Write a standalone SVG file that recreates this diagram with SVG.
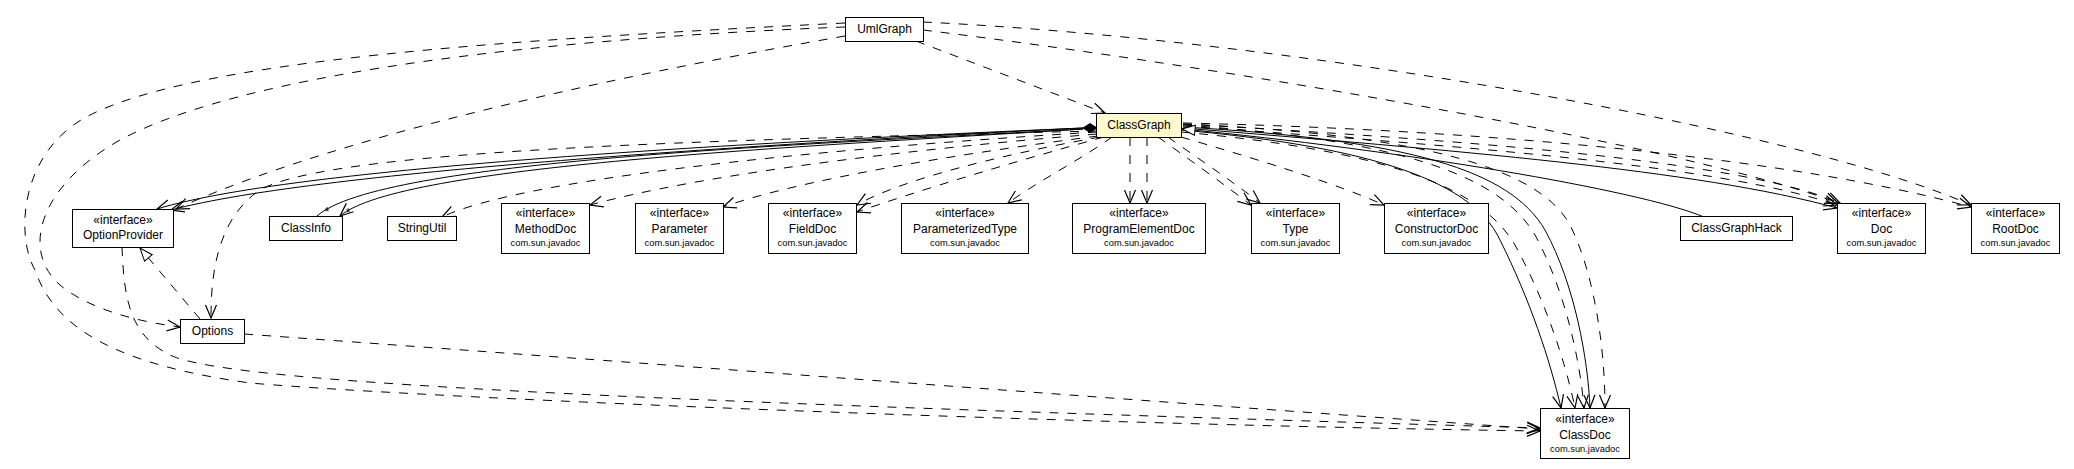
<svg xmlns="http://www.w3.org/2000/svg" width="2074" height="469" viewBox="0 0 2074 469">
<style>
.n rect{fill:#fff;stroke:#000;stroke-width:1}
#ClassGraph rect{fill:#FFFACD}
text{font-family:"Liberation Sans",Arial,Helvetica,sans-serif;font-size:12px;fill:#000;text-anchor:middle}
text.pk{font-size:9.3px}
.e{fill:none;stroke:#000;stroke-width:1}
.d{stroke-dasharray:9,9}
.v{marker-end:url(#vee)}
.g{marker-end:url(#tri)}
</style>
<defs>
<marker id="vee" markerUnits="userSpaceOnUse" markerWidth="16" markerHeight="14" viewBox="-1 -1 16 14" refX="13" refY="5.5" orient="auto" overflow="visible">
<path d="M0,0 L13,5.5 L0,11" fill="none" stroke="#000" stroke-width="1.2" stroke-dasharray="none"/>
</marker>
<marker id="tri" markerUnits="userSpaceOnUse" markerWidth="16" markerHeight="14" viewBox="-1 -1 16 14" refX="13" refY="5" orient="auto" overflow="visible">
<path d="M0,0 L13,5 L0,10 Z" fill="#fff" stroke="#000" stroke-width="1" stroke-dasharray="none"/>
</marker>
</defs>
<rect width="2074" height="469" fill="#fff"/>
<g id="connectors">
<path class="e d v" d="M916,41 L1105,113"/>
<path class="e d v" d="M845,27 C560,38 250,70 120,140 C40,185 20,250 60,285 C90,310 140,322 180,327"/>
<path class="e d v" d="M845,23 C500,40 200,60 90,115 C20,150 15,235 35,270 C55,330 120,365 250,383 C450,400 1100,425 1540,431"/>
<path class="e d v" d="M845,36 C650,70 350,130 176,209"/>
<path class="e d v" d="M923,30 C1250,70 1700,150 1838,203"/>
<path class="e d v" d="M923,22 C1300,40 1800,130 1971,205"/>
<path class="e d v" d="M122,247 C124,300 130,335 170,355 C230,385 700,403 1540,428"/>
<path class="e d v" d="M244,334 C700,367 1100,398 1540,429"/>
<path class="e d g" d="M200,319 L140,248"/>
<path class="e d v" d="M1097,131 C700,140 330,150 260,190 C215,220 211,280 211,318"/>
<path class="e v" d="M1083,128 C800,140 300,165 157,209"/>
<path class="e v" d="M1083,128 C800,142 320,170 171,210"/>
<path class="e" d="M1083,129 C800,145 380,160 317,216"/>
<path class="e v" d="M1083,129 C800,147 400,165 340,216"/>
<path class="e d v" d="M1097,132 C800,150 520,180 442,217"/>
<path class="e d v" d="M1097,134 C900,150 700,175 590,205"/>
<path class="e d v" d="M1098,136 C950,155 800,180 723,207"/>
<path class="e d v" d="M1100,137 C1000,155 900,180 857,205"/>
<path class="e d v" d="M1104,137 C1020,160 920,190 857,212"/>
<path class="e d v" d="M1112,137 C1080,160 1040,180 1008,203"/>
<path class="e d v" d="M1130,137 L1130,203"/>
<path class="e d v" d="M1147,137 L1147,203"/>
<path class="e d v" d="M1158,137 C1190,160 1225,185 1251,205"/>
<path class="e d v" d="M1168,137 C1200,160 1235,183 1260,203"/>
<path class="e d v" d="M1181,137 C1260,160 1340,185 1384,205"/>
<path class="e v" d="M1181,130 C1350,145 1470,175 1500,240 C1530,300 1550,360 1561,408"/>
<path class="e d v" d="M1181,132 C1380,150 1480,185 1515,245 C1545,300 1565,360 1575,408"/>
<path class="e d v" d="M1183,125 C1400,140 1500,175 1535,235 C1565,290 1580,360 1584,408"/>
<path class="e v" d="M1183,127 C1410,140 1510,170 1545,230 C1575,285 1588,360 1590,408"/>
<path class="e d v" d="M1183,124 C1430,135 1540,170 1570,225 C1595,275 1605,350 1605,408"/>
<path class="e v" d="M1183,128 C1450,150 1700,170 1837,208"/>
<path class="e d v" d="M1183,126 C1450,145 1720,165 1837,205"/>
<path class="e d v" d="M1183,124 C1460,140 1740,160 1840,203"/>
<path class="e d v" d="M1183,123 C1500,130 1800,160 1971,207"/>
<path class="e g" d="M1704,217 C1640,190 1400,150 1182,129"/>
<polygon points="1097,128 1090,123.5 1083,128 1090,132.5" fill="#000" stroke="#000"/>
<text x="327" y="216">*</text>
<text x="348" y="217">*</text>
</g>
<g id="UmlGraph" class="n"><rect x="845.5" y="17.5" width="78" height="24"/><text x="884.5" y="33">UmlGraph</text></g>
<g id="ClassGraph" class="n"><rect x="1096.5" y="113.5" width="85" height="24"/><text x="1139" y="129">ClassGraph</text></g>
<g id="OptionProvider" class="n"><rect x="72.5" y="209.5" width="101" height="38"/><text x="123" y="224">«interface»</text><text x="123" y="238.5">OptionProvider</text></g>
<g id="ClassInfo" class="n"><rect x="269.5" y="216.5" width="73" height="24"/><text x="306" y="232">ClassInfo</text></g>
<g id="StringUtil" class="n"><rect x="387.5" y="216.5" width="69" height="24"/><text x="422" y="232">StringUtil</text></g>
<g id="MethodDoc" class="n"><rect x="501.5" y="203.5" width="88" height="50"/><text x="545.5" y="216.5">«interface»</text><text x="545.5" y="233">MethodDoc</text><text class="pk" x="545.5" y="245.5">com.sun.javadoc</text></g>
<g id="Parameter" class="n"><rect x="635.5" y="203.5" width="88" height="50"/><text x="679.5" y="216.5">«interface»</text><text x="679.5" y="233">Parameter</text><text class="pk" x="679.5" y="245.5">com.sun.javadoc</text></g>
<g id="FieldDoc" class="n"><rect x="768.5" y="203.5" width="88" height="50"/><text x="812.5" y="216.5">«interface»</text><text x="812.5" y="233">FieldDoc</text><text class="pk" x="812.5" y="245.5">com.sun.javadoc</text></g>
<g id="ParameterizedType" class="n"><rect x="901.5" y="203.5" width="127" height="50"/><text x="965" y="216.5">«interface»</text><text x="965" y="233">ParameterizedType</text><text class="pk" x="965" y="245.5">com.sun.javadoc</text></g>
<g id="ProgramElementDoc" class="n"><rect x="1072.5" y="203.5" width="133" height="50"/><text x="1139" y="216.5">«interface»</text><text x="1139" y="233">ProgramElementDoc</text><text class="pk" x="1139" y="245.5">com.sun.javadoc</text></g>
<g id="Type" class="n"><rect x="1251.5" y="203.5" width="88" height="50"/><text x="1295.5" y="216.5">«interface»</text><text x="1295.5" y="233">Type</text><text class="pk" x="1295.5" y="245.5">com.sun.javadoc</text></g>
<g id="ConstructorDoc" class="n"><rect x="1384.5" y="203.5" width="104" height="50"/><text x="1436.5" y="216.5">«interface»</text><text x="1436.5" y="233">ConstructorDoc</text><text class="pk" x="1436.5" y="245.5">com.sun.javadoc</text></g>
<g id="ClassGraphHack" class="n"><rect x="1680.5" y="216.5" width="112" height="24"/><text x="1736.5" y="232">ClassGraphHack</text></g>
<g id="Doc" class="n"><rect x="1837.5" y="203.5" width="88" height="50"/><text x="1881.5" y="216.5">«interface»</text><text x="1881.5" y="233">Doc</text><text class="pk" x="1881.5" y="245.5">com.sun.javadoc</text></g>
<g id="RootDoc" class="n"><rect x="1971.5" y="203.5" width="88" height="50"/><text x="2015.5" y="216.5">«interface»</text><text x="2015.5" y="233">RootDoc</text><text class="pk" x="2015.5" y="245.5">com.sun.javadoc</text></g>
<g id="Options" class="n"><rect x="180.5" y="319.5" width="64" height="24"/><text x="212.5" y="334.5">Options</text></g>
<g id="ClassDoc" class="n"><rect x="1540.5" y="408.5" width="89" height="50"/><text x="1585" y="422.5">«interface»</text><text x="1585" y="439">ClassDoc</text><text class="pk" x="1585" y="451.5">com.sun.javadoc</text></g>
</svg>
